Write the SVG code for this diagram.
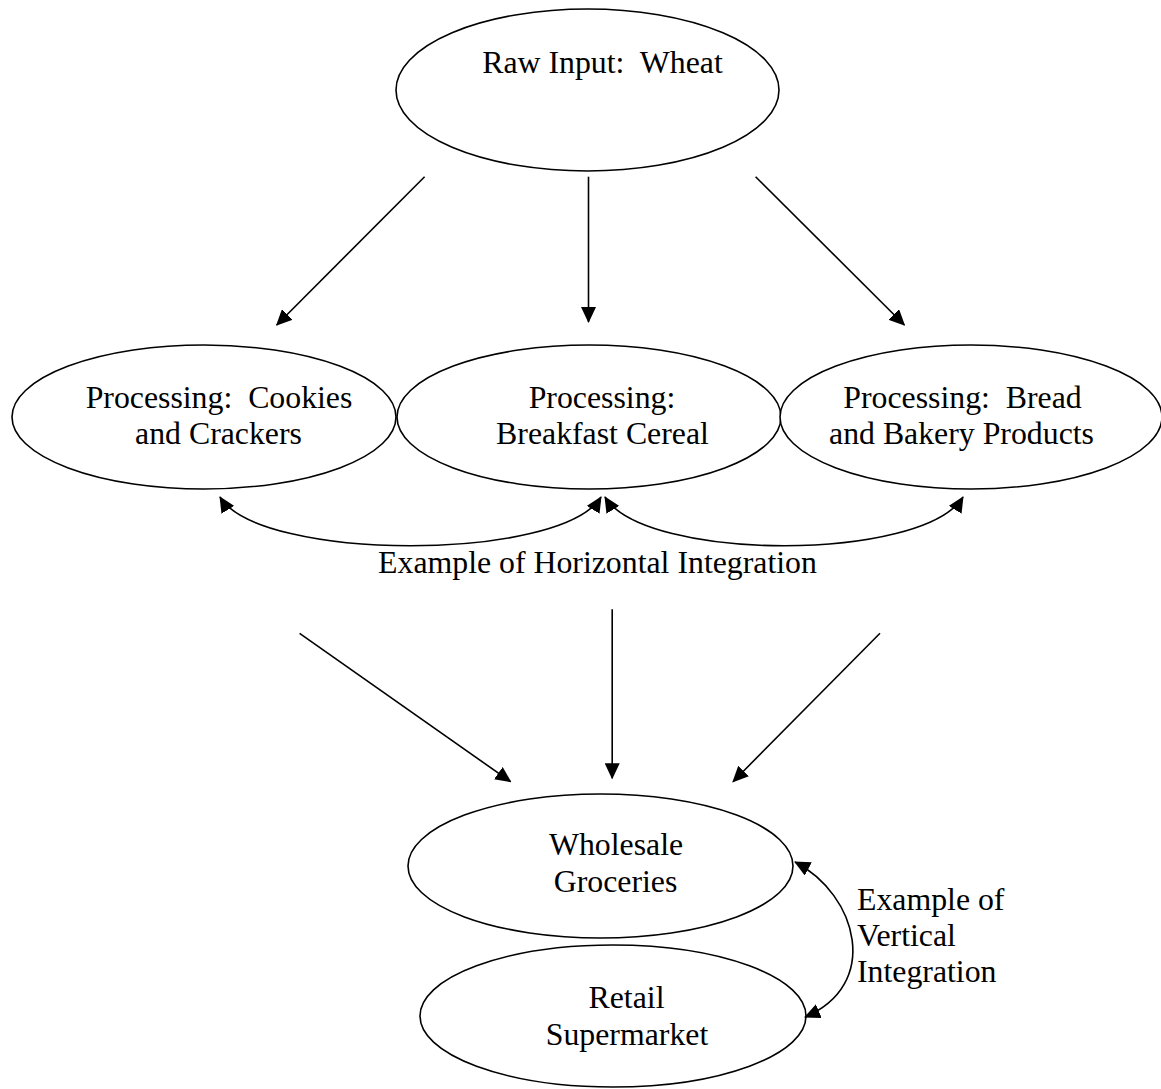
<svg xmlns="http://www.w3.org/2000/svg" width="1161" height="1089" viewBox="0 0 1161 1089">
<style>
.node ellipse{fill:#fff;stroke:#000;stroke-width:1.6}
text{font-family:"Liberation Serif","Times New Roman",serif;font-size:31.8px;fill:#000;text-anchor:middle;white-space:pre}
.edge{fill:none;stroke:#000;stroke-width:1.6}
</style>
<defs>
<marker id="ah" markerUnits="userSpaceOnUse" markerWidth="16" markerHeight="15" refX="15" refY="7.5" orient="auto-start-reverse" viewBox="0 0 16 15">
<path d="M0,0 L16,7.5 L0,15 z" fill="#000"/>
</marker>
</defs>
<rect width="1161" height="1089" fill="#fff"/>
<g id="raw" class="node"><ellipse cx="587.5" cy="90" rx="191.5" ry="81"/><text x="602.5" y="73" xml:space="preserve">Raw Input:  Wheat</text></g>
<g id="cookies" class="node"><ellipse cx="204" cy="417" rx="192" ry="72"/><text x="219" y="408" xml:space="preserve">Processing:  Cookies</text><text x="218.5" y="444">and Crackers</text></g>
<g id="cereal" class="node"><ellipse cx="589" cy="417" rx="192" ry="72"/><text x="602" y="408">Processing:</text><text x="602.5" y="444">Breakfast Cereal</text></g>
<g id="bread" class="node"><ellipse cx="971" cy="417" rx="191" ry="72"/><text x="962.5" y="408" xml:space="preserve">Processing:  Bread</text><text x="961.5" y="444">and Bakery Products</text></g>
<g id="wholesale" class="node"><ellipse cx="600.5" cy="866" rx="192.5" ry="72"/><text x="616" y="855">Wholesale</text><text x="615.5" y="892">Groceries</text></g>
<g id="retail" class="node"><ellipse cx="613" cy="1016" rx="193" ry="71"/><text x="626.5" y="1008">Retail</text><text x="627" y="1045">Supermarket</text></g>
<g id="connectors">
<line class="edge" x1="424.6" y1="176.7" x2="276.7" y2="325" marker-end="url(#ah)"/>
<line class="edge" x1="588.5" y1="176.7" x2="588.5" y2="322" marker-end="url(#ah)"/>
<line class="edge" x1="755.6" y1="176.7" x2="904.4" y2="325" marker-end="url(#ah)"/>
<path class="edge" d="M220,497 C260,562 561,562 601,497" marker-start="url(#ah)" marker-end="url(#ah)"/>
<path class="edge" d="M605,497 C645,562 923,562 963,497" marker-start="url(#ah)" marker-end="url(#ah)"/>
<line class="edge" x1="299.6" y1="633.3" x2="510.6" y2="781.7" marker-end="url(#ah)"/>
<line class="edge" x1="612.2" y1="609.3" x2="612.2" y2="778.3" marker-end="url(#ah)"/>
<line class="edge" x1="880" y1="633.3" x2="733" y2="781.7" marker-end="url(#ah)"/>
<path class="edge" d="M795,862 C858,895 881,985 805,1017" marker-start="url(#ah)" marker-end="url(#ah)"/>
</g>
<text x="597.5" y="573">Example of Horizontal Integration</text>
<text x="857" y="910" style="text-anchor:start">Example of</text>
<text x="857" y="946" style="text-anchor:start">Vertical</text>
<text x="857" y="982" style="text-anchor:start">Integration</text>
</svg>
